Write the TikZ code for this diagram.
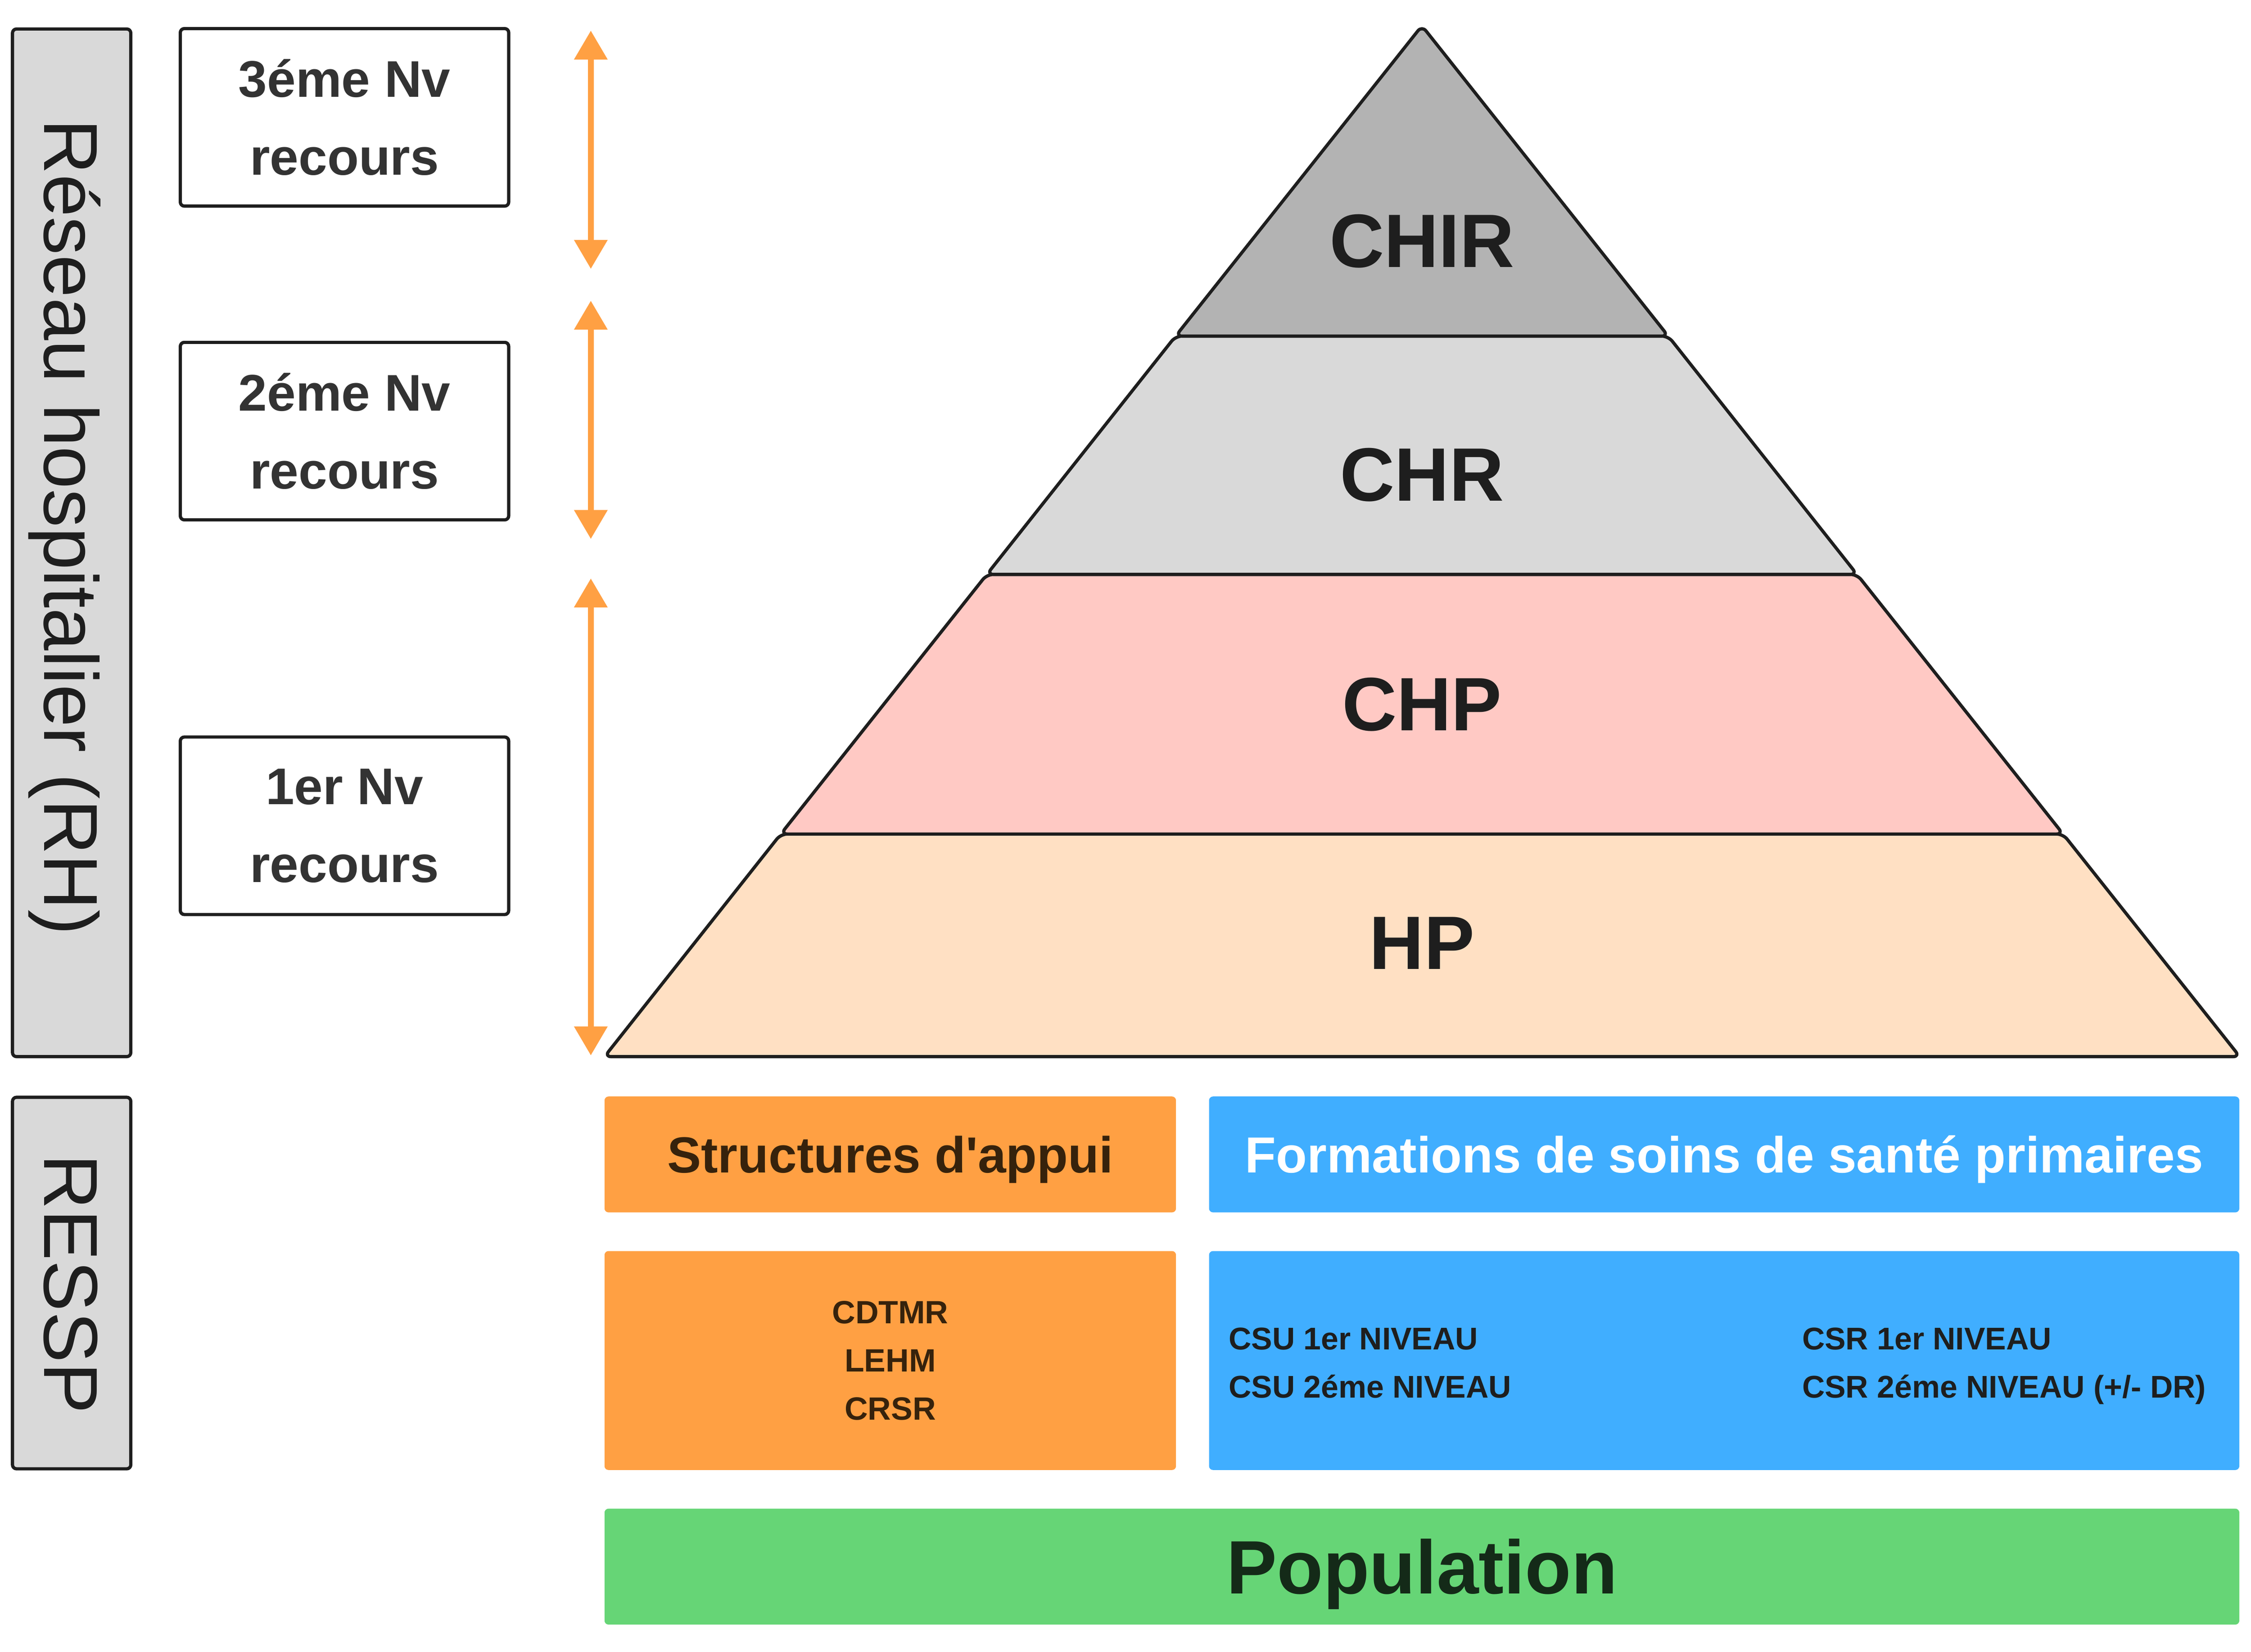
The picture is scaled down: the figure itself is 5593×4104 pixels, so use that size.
\documentclass[tikz,border=0pt]{standalone}
\usepackage{fontspec}
\setmainfont{Liberation Sans}[Ligatures=TeXOff]
\usetikzlibrary{arrows.meta}
\definecolor{linedark}{HTML}{1E1E1E}
\definecolor{sidegray}{HTML}{D9D9D9}
\definecolor{boxtext}{HTML}{333333}
\definecolor{chircol}{HTML}{B3B3B3}
\definecolor{chrcol}{HTML}{D9D9D9}
\definecolor{chpcol}{HTML}{FFC9C4}
\definecolor{hpcol}{HTML}{FFE0C3}
\definecolor{orangecol}{HTML}{FFA043}
\definecolor{bluecol}{HTML}{40AEFF}
\definecolor{greencol}{HTML}{66D576}
\definecolor{browntext}{HTML}{36220C}
\definecolor{greentext}{HTML}{142A18}
\tikzset{
  lvlbox/.style={draw=linedark, line width=2pt, rounded corners=2.5pt, fill=white,
    minimum width=204pt, minimum height=110.25pt, align=center, text=boxtext,
    font=\fontsize{32}{48.25}\selectfont\bfseries, inner sep=0pt},
  sidebox/.style={draw=linedark, line width=2pt, rounded corners=2.5pt, fill=sidegray,
    minimum width=73.5pt, inner sep=0pt},
  sidetext/.style={rotate=-90, text=linedark, font=\fontsize{47.5}{57}\selectfont,
    text height=34pt, text depth=0pt, inner sep=0pt},
  layerline/.style={draw=linedark, line width=2pt, rounded corners=4pt, line join=round},
  layerlabel/.style={font=\fontsize{47}{56}\selectfont\bfseries, text=linedark,
    text height=33.6pt, text depth=0pt, inner sep=0pt},
  fillbox/.style={rounded corners=2.5pt, inner sep=0pt, draw=none},
  headfont/.style={font=\fontsize{31.5}{38}\selectfont\bfseries, text height=22.5pt, text depth=0pt},
  smallfont/.style={font=\fontsize{19.5}{30}\selectfont\bfseries},
  columntext/.style={smallfont, align=left, text=linedark, anchor=west, inner sep=0pt,
    text height=14pt, text depth=0pt},
  levelarrow/.style={draw=orangecol, line width=3.5pt,
    {Triangle[width=20pt,length=18pt]}-{Triangle[width=20pt,length=18pt]}},
}
\begin{document}
\begin{tikzpicture}[x=0.25pt,y=-0.25pt]
\useasboundingbox (0,0) rectangle (5593,4104);

% side boxes
\node[sidebox, minimum height=638.25pt] (rh) at (178,1348.5) {};
\node[sidetext] (rhtext) at (178,1310) {Réseau hospitalier (RH)};
\node[sidebox, minimum height=230.75pt] (ressp) at (178,3187.5) {};
\node[sidetext] (resspt) at (178,3190) {RESSP};

% level boxes
\node[lvlbox] (n3) at (856,291.5) {3éme Nv\\recours};
\node[lvlbox] (n2) at (856,1071) {2éme Nv\\recours};
\node[lvlbox] (n1) at (856,2051.5) {1er Nv\\recours};

% arrows
\coordinate (a1t) at (1468,76);
\coordinate (a1b) at (1468,668);
\coordinate (a2t) at (1468,747);
\coordinate (a2b) at (1468,1339);
\coordinate (a3t) at (1468,1437);
\coordinate (a3b) at (1468,2622);
\draw[levelarrow] (a1t) -- (a1b);
\draw[levelarrow] (a2t) -- (a2b);
\draw[levelarrow] (a3t) -- (a3b);

% pyramid layers
\draw[layerline, fill=hpcol] (1940,2072) -- (5126,2072) -- (5565,2625) -- (1502,2625) -- cycle;
\draw[layerline, fill=chpcol] (2452,1427) -- (4614,1427) -- (5126,2072) -- (1940,2072) -- cycle;
\draw[layerline, fill=chrcol] (2921,835) -- (4145,835) -- (4614,1427) -- (2452,1427) -- cycle;
\draw[layerline, fill=chircol] (3533,64) -- (4145,835) -- (2921,835) -- cycle;
\node[layerlabel] (chir) at (3533,597) {CHIR};
\node[layerlabel] (chr) at (3533,1177) {CHR};
\node[layerlabel] (chp) at (3533,1748) {CHP};
\node[layerlabel] (hp) at (3533,2340) {HP};

% bottom boxes
\node[fillbox, fill=orangecol, minimum width=355pt, minimum height=72pt,
  headfont, text=browntext] (sa) at (2212,2868) {Structures d'appui};
\node[fillbox, fill=bluecol, minimum width=640pt, minimum height=72pt,
  headfont, text=white] (fs) at (4284,2868) {Formations de soins de santé primaires};
\node[fillbox, fill=orangecol, minimum width=355pt, minimum height=136pt,
  align=center, text=browntext, font=\fontsize{20}{30}\selectfont\bfseries] (salist) at (2212,3380) {CDTMR\\LEHM\\CRSR};
\node[fillbox, fill=bluecol, minimum width=640pt, minimum height=136pt] (fslist) at (4284,3380) {};
\node[columntext] (csu) at (3052,3445) {CSU 1er NIVEAU\\CSU 2éme NIVEAU};
\node[columntext] (csr) at (4477,3445) {CSR 1er NIVEAU\\CSR 2éme NIVEAU (+/- DR)};
\node[fillbox, fill=greencol, minimum width=1015.5pt, minimum height=72pt,
  font=\fontsize{47}{56}\selectfont\bfseries, text=greentext, text height=33.6pt, text depth=0pt] (pop) at (3533,3892) {Population};
\end{tikzpicture}
\end{document}
